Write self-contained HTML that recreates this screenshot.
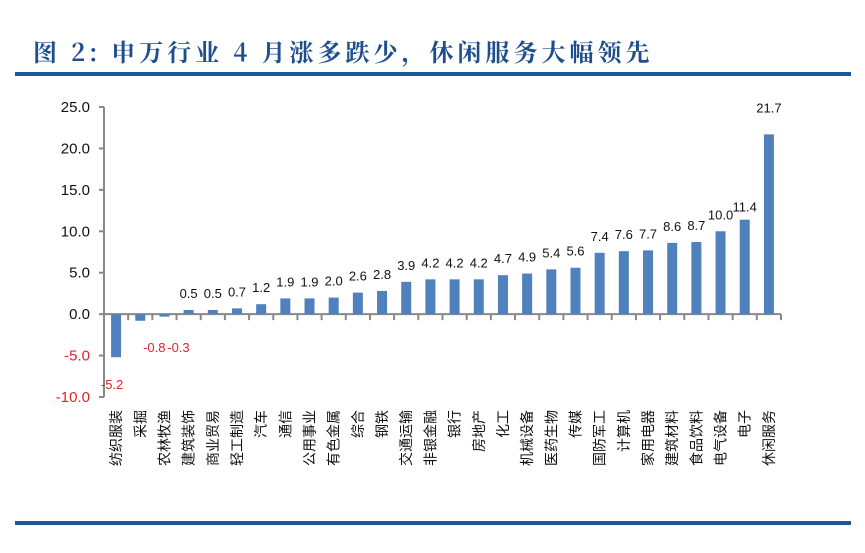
<!DOCTYPE html>
<html><head><meta charset="utf-8">
<style>
body{margin:0;background:#fff;}
svg{display:block;font-family:"Liberation Sans","Noto Sans CJK SC",sans-serif;}
</style></head>
<body>
<svg width="865" height="553" viewBox="0 0 865 553">
<text x="33" y="61" font-family="'Noto Serif CJK SC','Liberation Serif',serif" font-weight="bold" font-size="24" letter-spacing="4" fill="#1f4e8c">图 2:  申万行业 4 月涨多跌少，休闲服务大幅领先</text>
<rect x="15" y="72" width="836" height="4" fill="#1a5a9a"/>
<rect x="15" y="521" width="836" height="4" fill="#1a5a9a"/>
<g id="plot"></g>
</svg>
<script>
const categories=["纺织服装","采掘","农林牧渔","建筑装饰","商业贸易","轻工制造","汽车","通信","公用事业","有色金属","综合","钢铁","交通运输","非银金融","银行","房地产","化工","机械设备","医药生物","传媒","国防军工","计算机","家用电器","建筑材料","食品饮料","电气设备","电子","休闲服务"];
const values=[-5.2,-0.8,-0.3,0.5,0.5,0.7,1.2,1.9,1.9,2.0,2.6,2.8,3.9,4.2,4.2,4.2,4.7,4.9,5.4,5.6,7.4,7.6,7.7,8.6,8.7,10.0,11.4,21.7];
const yTicks=[25,20,15,10,5,0,-5,-10];
const NS="http://www.w3.org/2000/svg";
const g=document.getElementById('plot');
const x0=104,x1=781,yTop=107,yBot=397,vMax=25,vMin=-10;
const y=v=>yTop+(vMax-v)/(vMax-vMin)*(yBot-yTop);
const bw=(x1-x0)/categories.length;
const xc=i=>x0+bw*(i+0.5);
function mk(t,a){const e=document.createElementNS(NS,t);for(const k in a)e.setAttribute(k,a[k]);g.appendChild(e);return e;}
let ax=mk('line',{x1:x0,y1:yTop,x2:x0,y2:yBot,stroke:'#888','stroke-width':2});


yTicks.forEach(v=>{
 let tk=mk('line',{x1:x0-5,y1:y(v),x2:x0,y2:y(v),stroke:'#888','stroke-width':2});
 
 
 let t=mk('text',{x:x0-14,y:y(v)+5,'text-anchor':'end','font-size':15,fill:v<0?'#e0242a':'#111'});
 t.textContent=v.toFixed(1);
 
 
});
let xa=mk('line',{x1:x0,y1:y(0),x2:x1,y2:y(0),stroke:'#888','stroke-width':2});


categories.forEach((c,i)=>{
 let tk=mk('line',{x1:x0+bw*(i+1),y1:y(0),x2:x0+bw*(i+1),y2:y(0)+6,stroke:'#888','stroke-width':2});
 
 
 const v=values[i];
 const top=Math.min(y(v),y(0)),h=Math.abs(y(v)-y(0));
 let b=mk('rect',{x:xc(i)-5,y:top,width:10,height:Math.max(h,1),fill:'#4f81bd'});
 
 
 let lbl=mk('text',{'font-size':13,'text-anchor':'middle',fill:v<0?'#e0242a':'#111'});
 if(v<0){
   if(i===0){lbl.setAttribute('x',xc(i)-4);lbl.setAttribute('y',y(v)+32);}
   else{lbl.setAttribute('x',xc(i)+14);lbl.setAttribute('y',y(0)+38);}
 }else{lbl.setAttribute('x',xc(i));lbl.setAttribute('y',y(v)-(v>20?22:v>10?8:12));}
 lbl.textContent=v.toFixed(1);
 
 
 let t=mk('text',{transform:`translate(${xc(i)+5},410) rotate(-90)`,'text-anchor':'end','font-size':14,fill:'#111'});
 t.textContent=c;
 
 
});
</script>
</body></html>
